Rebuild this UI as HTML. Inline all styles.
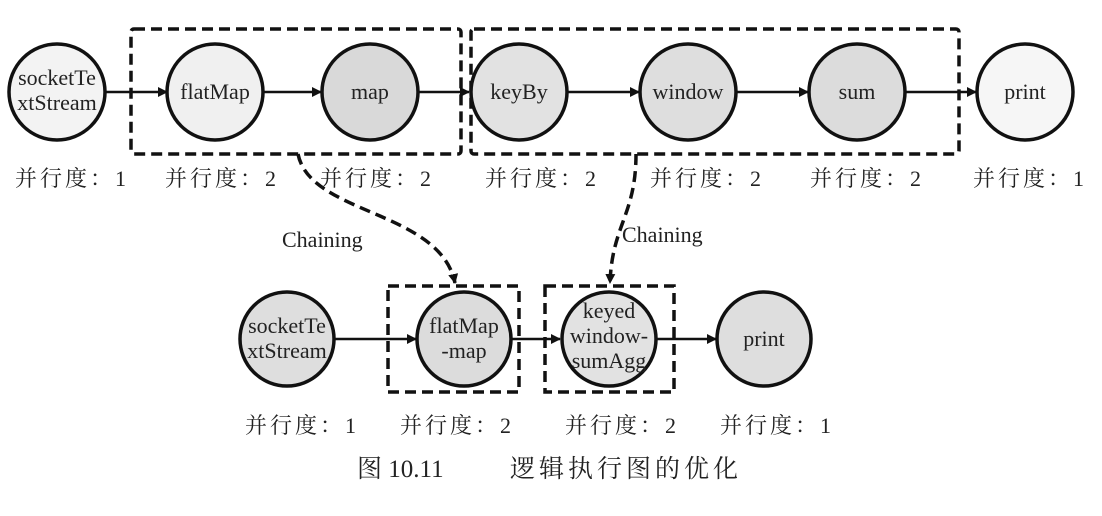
<!DOCTYPE html><html><head><meta charset="utf-8"><style>body{margin:0;background:#fff}svg{display:block}text{font-family:"Liberation Serif","Noto Serif CJK SC",serif;fill:#222}</style></head><body>
<svg width="1102" height="516" viewBox="0 0 1102 516">
<defs><marker id="a" markerWidth="10" markerHeight="10" refX="9" refY="5" orient="auto" markerUnits="userSpaceOnUse"><path d="M0,0 L10,5 L0,10z" fill="#111"/></marker></defs>
<g stroke="#111" stroke-width="3.5" fill="none" stroke-dasharray="11,6">
<rect x="131" y="29" width="330" height="125" rx="3"/>
<rect x="471" y="29" width="488" height="125" rx="3"/>
<rect x="388" y="286" width="131" height="106"/>
<rect x="545" y="286" width="129" height="106"/>
<path d="M298,154 C310,215 440,210 455,283" marker-end="url(#a)"/>
<path d="M636,154 C636,215 612,225 610,283" marker-end="url(#a)"/>
</g>
<g stroke="#111" stroke-width="2.5" marker-end="url(#a)">
<line x1="105" y1="92" x2="167" y2="92"/><line x1="262" y1="92" x2="321" y2="92"/>
<line x1="418" y1="92" x2="469" y2="92"/><line x1="567" y1="92" x2="639" y2="92"/>
<line x1="737" y1="92" x2="808" y2="92"/><line x1="905" y1="92" x2="976" y2="92"/>
<line x1="334" y1="339" x2="416" y2="339"/><line x1="512" y1="339" x2="560" y2="339"/>
<line x1="656" y1="339" x2="716" y2="339"/>
</g>
<g stroke="#111" stroke-width="3.5">
<circle cx="57" cy="92" r="48" fill="#f3f3f3"/><circle cx="215" cy="92" r="48" fill="#f0f0f0"/>
<circle cx="370" cy="92" r="48" fill="#d9d9d9"/><circle cx="519" cy="92" r="48" fill="#e2e2e2"/>
<circle cx="688" cy="92" r="48" fill="#dedede"/><circle cx="857" cy="92" r="48" fill="#dcdcdc"/>
<circle cx="1025" cy="92" r="48" fill="#f6f6f6"/>
<circle cx="287" cy="339" r="47" fill="#dedede"/><circle cx="464" cy="339" r="47" fill="#dcdcdc"/>
<circle cx="609" cy="339" r="47" fill="#e2e2e2"/><circle cx="764" cy="339" r="47" fill="#dedede"/>
</g>
<g font-size="22" text-anchor="middle">
<text x="57" y="85">socketTe</text><text x="57" y="110">xtStream</text>
<text x="215" y="99">flatMap</text><text x="370" y="99">map</text><text x="519" y="99">keyBy</text>
<text x="688" y="99">window</text><text x="857" y="99">sum</text><text x="1025" y="99">print</text>
<text x="287" y="333">socketTe</text><text x="287" y="358">xtStream</text>
<text x="464" y="333">flatMap</text><text x="464" y="358">-map</text>
<text x="609" y="318">keyed</text><text x="609" y="343">window-</text><text x="609" y="368">sumAgg</text>
<text x="764" y="346">print</text>
</g>
<g font-size="22" letter-spacing="3">
<text x="15" y="186">并行度：1</text><text x="165" y="186">并行度：2</text><text x="320" y="186">并行度：2</text>
<text x="485" y="186">并行度：2</text><text x="650" y="186">并行度：2</text><text x="810" y="186">并行度：2</text>
<text x="973" y="186">并行度：1</text>
<text x="245" y="433">并行度：1</text><text x="400" y="433">并行度：2</text><text x="565" y="433">并行度：2</text><text x="720" y="433">并行度：1</text>
</g>
<g font-size="22">
<text x="282" y="247">Chaining</text><text x="622" y="242">Chaining</text>
<text x="357" y="477" font-size="25">图 10.11</text>
<text x="510" y="477" font-size="25" letter-spacing="4">逻辑执行图的优化</text>
</g>
</svg></body></html>
